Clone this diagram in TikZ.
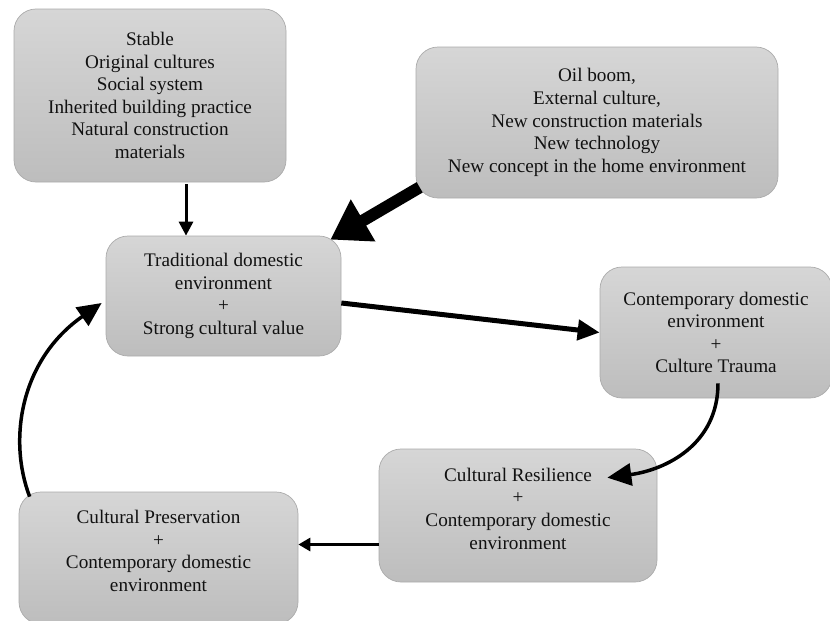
\documentclass[tikz,border=0pt]{standalone}
\usepackage{fontspec}
\setmainfont{Liberation Serif}
\usetikzlibrary{arrows.meta}
\definecolor{boxtop}{HTML}{D6D6D6}
\definecolor{boxbot}{HTML}{BDBDBD}
\definecolor{boxline}{HTML}{ABABAB}
\definecolor{txt}{HTML}{111111}
\tikzset{
  box/.style={rectangle, rounded corners=22pt, draw=boxline, line width=0.7pt,
    top color=boxtop, bottom color=boxbot, align=center, text=txt,
    inner sep=0pt,
    font=\fontsize{19.2}{22.6}\selectfont},
  conn/.style={draw=black, line cap=butt}
}
\begin{document}
\begin{tikzpicture}[x=1pt,y=-1pt]
\useasboundingbox (0,0) rectangle (830,621);
\begin{scope}
\clip (0,0) rectangle (830,621);
\node[box, minimum width=272pt, minimum height=173pt] (A) at (150,95.5)
  {Stable\\Original cultures\\Social system\\Inherited building practice\\Natural construction\\materials};
\node[box, minimum width=362pt, minimum height=151pt] (B) at (597,122.5)
  {Oil boom,\\External culture,\\New construction materials\\New technology\\New concept in the home environment};
\node[box, minimum width=235pt, minimum height=120pt] (C) at (223.5,296)
  {Traditional domestic\\environment\\+\\Strong cultural value};
\node[box, minimum width=232pt, minimum height=131pt] (D) at (716,332.5)
  {Contemporary domestic\\environment\\+\\Culture Trauma};
\node[box, minimum width=278pt, minimum height=133pt] (E) at (518,515.5)
  {Cultural Resilience\\+\\Contemporary domestic\\environment\\[-8.6pt]};
\node[box, minimum width=279pt, minimum height=132pt] (F) at (158.5,558)
  {Cultural Preservation\\+\\Contemporary domestic\\environment\\[-8.6pt]};
\end{scope}
% A -> C
\draw[conn, line width=3pt, -{Triangle[length=14pt,width=14pt]}]
  ([xshift=36pt,yshift=-2pt]A.south) -- ([xshift=36pt]A.south |- C.north);
% B -> C (thick)
\draw[conn, line width=12pt, -{Triangle[length=38pt,width=46pt]}]
  ([shift={(4,-11)}]B.south west) -- ([shift={(-11,4)}]C.north east);
% C -> D
\draw[conn, line width=5pt, -{Triangle[length=22pt,width=20pt]}]
  ([shift={(0,7)}]C.east) -- (D.west);
% D -> E curved
\draw[conn, line width=3.5pt, -{Triangle[length=24pt,width=22pt]}]
  ([shift={(2,-15)}]D.south) .. controls (718,445) and (665,470) .. ([shift={(-50,29)}]E.north east);
% E -> F
\draw[conn, line width=3pt, -{Triangle[length=12pt,width=13pt]}]
  ([shift={(0,29)}]E.west) -- ([shift={(0,29)}]E.west -| F.east);
% F -> C curved
\draw[conn, line width=3.5pt, -{Triangle[length=24pt,width=22pt]}]
  ([shift={(11,5)}]F.north west) .. controls (8,440) and (20,360) .. ([shift={(-4,7)}]C.west);
\end{tikzpicture}
\end{document}
